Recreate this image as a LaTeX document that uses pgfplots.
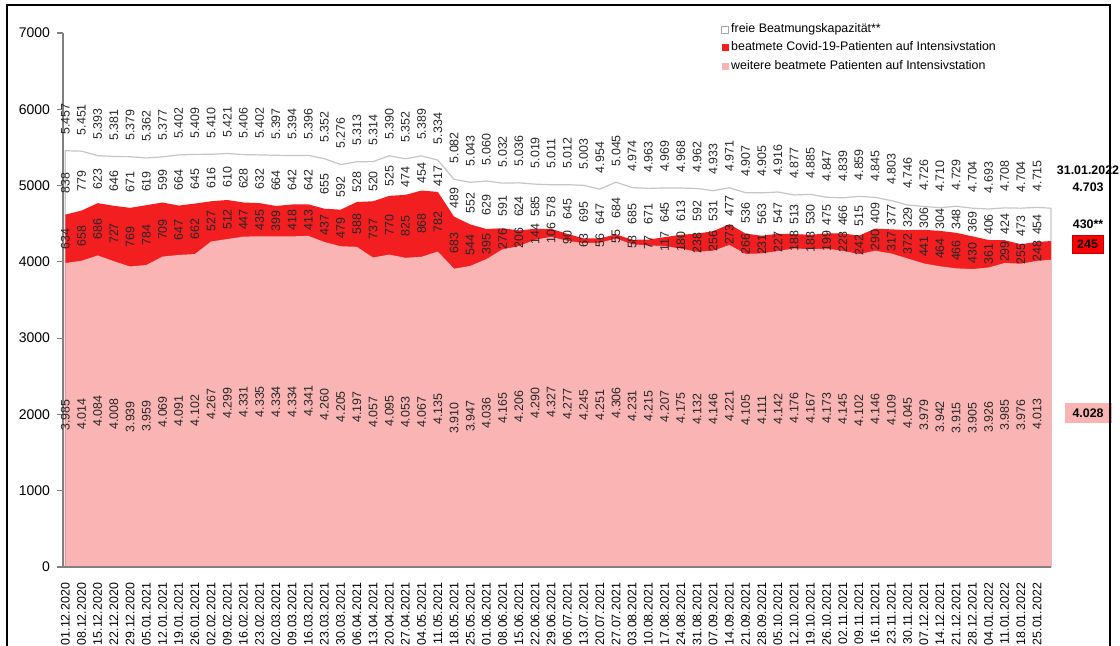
\documentclass[border=0pt]{standalone}
\usepackage{pgfplots}
\usepackage{pgfplotstable}
\pgfplotsset{compat=1.18}
\usepackage{fontspec}
\setmainfont{Liberation Sans}
\definecolor{cred}{RGB}{242,30,32}
\definecolor{cpink}{RGB}{250,180,180}
\definecolor{caxis}{RGB}{128,128,128}
\newcommand\fs{\fontsize{6.2}{7.4}\selectfont}
\newcommand\fy{\fontsize{7}{8.4}\selectfont}

\pgfplotstableread{
x oth cov fre tot
0 3985 634 838 5457
7 4014 658 779 5451
14 4084 686 623 5393
21 4008 727 646 5381
28 3939 769 671 5379
35 3959 784 619 5362
42 4069 709 599 5377
49 4091 647 664 5402
56 4102 662 645 5409
63 4267 527 616 5410
70 4299 512 610 5421
77 4331 447 628 5406
84 4335 435 632 5402
91 4334 399 664 5397
98 4334 418 642 5394
105 4341 413 642 5396
112 4260 437 655 5352
119 4205 479 592 5276
126 4197 588 528 5313
133 4057 737 520 5314
140 4095 770 525 5390
147 4053 825 474 5352
154 4067 868 454 5389
161 4135 782 417 5334
168 3910 683 489 5082
175 3947 544 552 5043
182 4036 395 629 5060
189 4165 276 591 5032
196 4206 206 624 5036
203 4290 144 585 5019
210 4327 106 578 5011
217 4277 90 645 5012
224 4245 63 695 5003
231 4251 56 647 4954
238 4306 55 684 5045
245 4231 58 685 4974
252 4215 77 671 4963
259 4207 117 645 4969
266 4175 180 613 4968
273 4132 238 592 4962
280 4146 256 531 4933
287 4221 273 477 4971
294 4105 266 536 4907
301 4111 231 563 4905
308 4142 227 547 4916
315 4176 188 513 4877
322 4167 188 530 4885
329 4173 199 475 4847
336 4145 228 466 4839
343 4102 242 515 4859
350 4146 290 409 4845
357 4109 317 377 4803
364 4045 372 329 4746
371 3979 441 306 4726
378 3942 464 304 4710
385 3915 466 348 4729
392 3905 430 369 4704
399 3926 361 406 4693
406 3985 299 424 4708
413 3976 255 473 4704
420 4013 248 454 4715
426 4028 245 430 4703
}\data

\begin{document}
\begin{tikzpicture}
\useasboundingbox (0,0) rectangle (560pt,322.5pt);
\begin{axis}[
  at={(31.5pt,39pt)}, anchor=south west,
  scale only axis, width=494pt, height=267pt,
  xmin=-1, xmax=426, ymin=0, ymax=7000,
  axis lines*=left,
  axis line style={draw=caxis, line width=0.6pt},
  axis on top,
  clip=false,
  tick align=outside, major tick length=3pt,
  ytick={0,1000,...,7000},
  ytick style={draw=caxis, line width=0.6pt},
  yticklabel style={font=\fy, /pgf/number format/1000 sep={}},
  xtick={0,7,...,420},
  xtick style={draw=none},
  xticklabel shift=1.5pt,
  xticklabel style={rotate=90, anchor=east, font=\fs},
  xticklabels={01.12.2020,08.12.2020,15.12.2020,22.12.2020,29.12.2020,05.01.2021,12.01.2021,19.01.2021,26.01.2021,02.02.2021,09.02.2021,16.02.2021,23.02.2021,02.03.2021,09.03.2021,16.03.2021,23.03.2021,30.03.2021,06.04.2021,13.04.2021,20.04.2021,27.04.2021,04.05.2021,11.05.2021,18.05.2021,25.05.2021,01.06.2021,08.06.2021,15.06.2021,22.06.2021,29.06.2021,06.07.2021,13.07.2021,20.07.2021,27.07.2021,03.08.2021,10.08.2021,17.08.2021,24.08.2021,31.08.2021,07.09.2021,14.09.2021,21.09.2021,28.09.2021,05.10.2021,12.10.2021,19.10.2021,26.10.2021,02.11.2021,09.11.2021,16.11.2021,23.11.2021,30.11.2021,07.12.2021,14.12.2021,21.12.2021,28.12.2021,04.01.2022,11.01.2022,18.01.2022,25.01.2022},
  /pgf/number format/assume math mode=true,
  legend style={at={(rel axis cs:0.666,1.022)}, anchor=north west, draw=none, fill=none,
    font=\fs, row sep=1.1pt, inner sep=0pt, nodes={inner sep=1pt}},
  legend cell align=left,
  legend image code/.code={\path[#1] (0pt,-1.75pt) rectangle (3.5pt,1.75pt);},
]
\addlegendimage{fill=white, draw=gray!70, line width=0.4pt}
\addlegendentry{freie Beatmungskapazität**}
\addlegendimage{fill=cred, draw=none}
\addlegendentry{beatmete Covid-19-Patienten auf Intensivstation}
\addlegendimage{fill=cpink, draw=none}
\addlegendentry{weitere beatmete Patienten auf Intensivstation}

\addplot[fill=white, draw=gray!45, line width=0.6pt, forget plot] table[x=x, y=tot]{\data} \closedcycle;
\addplot[fill=cred, draw=none, forget plot] table[x=x, y expr=\thisrow{oth}+\thisrow{cov}]{\data} \closedcycle;
\addplot[fill=cpink, draw=none, forget plot] table[x=x, y=oth]{\data} \closedcycle;

\pgfplotsset{lbl/.style={draw=none, forget plot, point meta=explicit,
   skip coords between index={61}{62},
   nodes near coords={\pgfmathprintnumber[fixed,precision=0,1000 sep={.}]{\pgfplotspointmeta}},
   every node near coord/.style={rotate=90, anchor=center, font=\fs, inner sep=0pt, text=black!85}}}
\addplot[lbl] table[x=x, y expr=\thisrow{oth}/2, meta=oth]{\data};
\addplot[lbl] table[x=x, y expr=\thisrow{oth}+\thisrow{cov}/2, meta=cov]{\data};
\addplot[lbl] table[x=x, y expr=\thisrow{oth}+\thisrow{cov}+\thisrow{fre}/2, meta=fre]{\data};
\addplot[lbl, every node near coord/.append style={anchor=west, outer xsep=8pt}] table[x=x, y=tot, meta=tot]{\data};

\node[font=\bfseries\fs] at (axis cs:442,5204) {31.01.2022};
\node[font=\bfseries\fs] at (axis cs:442,4981) {4.703};
\node[font=\bfseries\fs] at (axis cs:442,4496) {430**};
\node[font=\bfseries\fs, fill=red, draw=red!75!black, line width=0.4pt, minimum width=15.5pt, minimum height=9pt, inner sep=0.5pt] at (axis cs:441.8,4234) {245};
\node[font=\bfseries\fs, fill=cpink, minimum width=23.5pt, minimum height=10pt, inner sep=0.5pt] at (axis cs:442,2019) {4.028};
\end{axis}
\draw[line width=1pt] (3.5pt,-5pt) -- (3.5pt,320pt) -- (555pt,320pt) -- (555pt,-5pt);
\end{tikzpicture}
\end{document}
